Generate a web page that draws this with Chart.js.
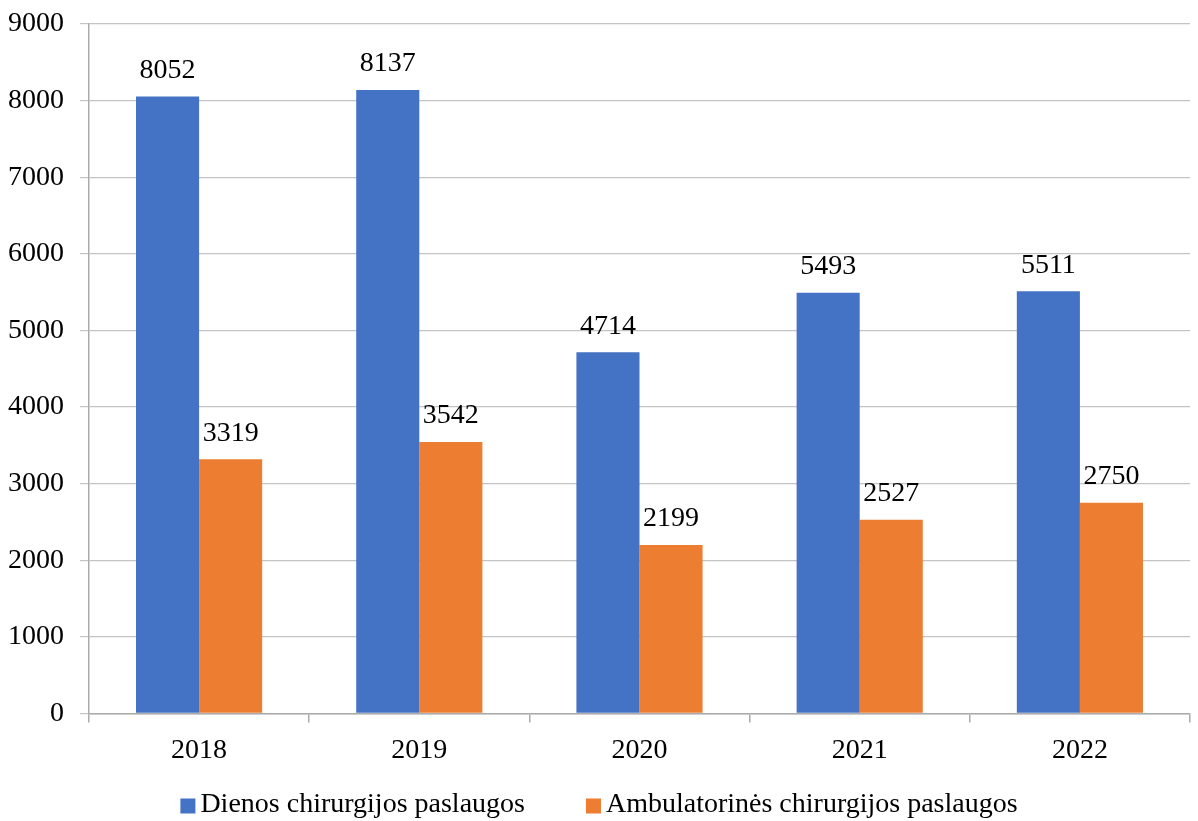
<!DOCTYPE html>
<html>
<head>
<meta charset="utf-8">
<script src="https://cdn.jsdelivr.net/npm/chart.js@4"></script>
<style>
  html, body { margin: 0; padding: 0; background: #fff; }
  #wrap { width: 1198px; height: 821px; }
</style>
</head>
<body>
<div id="wrap"><canvas id="chart"></canvas></div>
<script>
const years = ['2018', '2019', '2020', '2021', '2022'];
const dienos = [8052, 8137, 4714, 5493, 5511];
const ambulatorines = [3319, 3542, 2199, 2527, 2750];
const seriesNames = ['Dienos chirurgijos paslaugos', 'Ambulatorinės chirurgijos paslaugos'];
const seriesColors = ['#4472c4', '#ed7d31'];

const FONT = '"Liberation Serif", "Times New Roman", serif';
const AXIS_GRAY = '#ababab';

// value labels above each bar
const barLabels = {
    id: 'barLabels',
    afterDatasetsDraw(chart) {
        const ctx = chart.ctx;
        ctx.save();
        ctx.font = '28px ' + FONT;
        ctx.fillStyle = '#000';
        ctx.textAlign = 'center';
        ctx.textBaseline = 'bottom';
        chart.data.datasets.forEach((ds, i) => {
            chart.getDatasetMeta(i).data.forEach((bar, j) => {
                ctx.fillText(ds.data[j], bar.x, bar.y - 12);
            });
        });
        ctx.restore();
    }
};

// legend drawn by hand so the spacing matches the Excel-style one
const bottomLegend = {
    id: 'bottomLegend',
    afterDraw(chart) {
        const ctx = chart.ctx;
        const box = 15, gap = 5, spacing = 61;
        const yMid = 806;
        ctx.save();
        ctx.font = '28px ' + FONT;
        const widths = chart.data.datasets.map(ds => ctx.measureText(ds.label).width);
        let total = 0;
        widths.forEach((w, i) => { total += box + gap + w + (i > 0 ? spacing : 0); });
        let x = (chart.width - total) / 2;
        ctx.textBaseline = 'middle';
        ctx.textAlign = 'left';
        chart.data.datasets.forEach((ds, i) => {
            ctx.fillStyle = ds.backgroundColor;
            ctx.fillRect(x, yMid - box / 2, box, box);
            ctx.fillStyle = '#000';
            ctx.fillText(ds.label, x + box + gap, yMid - 1);
            x += box + gap + widths[i] + spacing;
        });
        ctx.restore();
    }
};

new Chart(document.getElementById('chart'), {
    type: 'bar',
    data: {
        labels: years,
        datasets: [
            { label: seriesNames[0], data: dienos, backgroundColor: seriesColors[0] },
            { label: seriesNames[1], data: ambulatorines, backgroundColor: seriesColors[1] }
        ]
    },
    options: {
        responsive: true,
        maintainAspectRatio: false,
        animation: false,
        layout: { padding: { top: 24, right: 8, left: 0, bottom: 43 } },
        datasets: { bar: { categoryPercentage: 0.573, barPercentage: 1 } },
        plugins: {
            legend: { display: false },
            tooltip: { enabled: false }
        },
        scales: {
            x: {
                grid: { drawOnChartArea: false, drawTicks: true, tickLength: 9, color: AXIS_GRAY, lineWidth: 1.5 },
                border: { color: AXIS_GRAY, width: 1.5 },
                ticks: { font: { family: FONT, size: 28 }, color: '#000', padding: 11 }
            },
            y: {
                min: 0,
                max: 9000,
                afterFit: s => { s.width = 89; s.paddingTop = 0; s.paddingBottom = 0; },
                ticks: {
                    stepSize: 1000,
                    font: { family: FONT, size: 28 },
                    color: '#000',
                    padding: 16,
                    callback: v => String(v)
                },
                grid: { color: '#c4c4c4', tickLength: 9, lineWidth: 1.2 },
                border: { color: AXIS_GRAY, width: 1.5 }
            }
        }
    },
    plugins: [barLabels, bottomLegend]
});
</script>
</body>
</html>
